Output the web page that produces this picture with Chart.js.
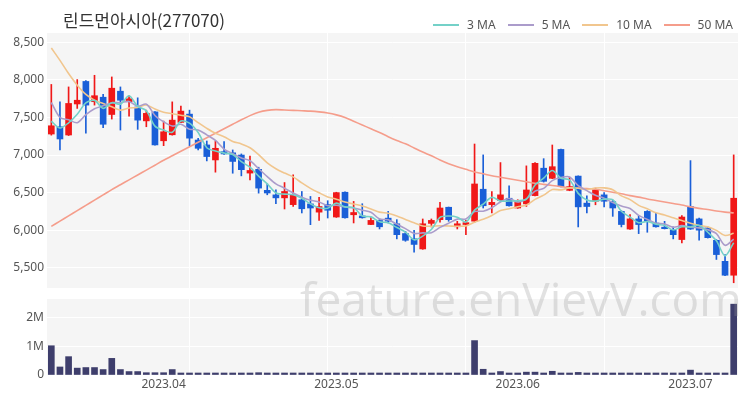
<!DOCTYPE html>
<html><head><meta charset="utf-8">
<script src="https://cdn.jsdelivr.net/npm/chart.js@4/dist/chart.umd.min.js"></script>
<style>
html,body{margin:0;padding:0;background:#fff;width:750px;height:400px;overflow:hidden;}
#wrap{position:relative;width:750px;height:400px;}
#title{position:absolute;left:63px;top:8px;font-family:"Noto Sans CJK KR","Noto Sans",sans-serif;font-size:17px;color:#333;line-height:24px;white-space:nowrap;}
#legend{position:absolute;right:17px;top:17px;display:flex;align-items:center;font-family:"Noto Sans",sans-serif;font-size:12px;color:#555;line-height:16px;}
.li{display:flex;align-items:center;margin-left:12px}
.ln{width:26px;height:2px;margin-right:8px}
#c1{position:absolute;left:0;top:0}
#c2{position:absolute;left:0;top:292px}
#wm{position:absolute;left:300px;top:268px;font-family:"Open Sans","Noto Sans",sans-serif;font-size:46px;color:rgba(150,150,150,0.28);pointer-events:none;white-space:nowrap;line-height:60px;}
</style>
</head><body>
<div id="wrap">
<canvas id="c1" width="750" height="292"></canvas>
<canvas id="c2" width="750" height="108"></canvas>
<div id="title">린드먼아시아(277070)</div>
<div id="legend"></div>
<div id="wm">feature.enVievV.com</div>
</div>
<script>
const dates = ['2023-03-15','2023-03-16','2023-03-17','2023-03-20','2023-03-21','2023-03-22','2023-03-23','2023-03-24','2023-03-27','2023-03-28','2023-03-29','2023-03-30','2023-03-31',
'2023-04-03','2023-04-04','2023-04-05','2023-04-06','2023-04-07','2023-04-10','2023-04-11','2023-04-12','2023-04-13','2023-04-14','2023-04-17','2023-04-18','2023-04-19','2023-04-20','2023-04-21','2023-04-24','2023-04-25','2023-04-26','2023-04-27','2023-04-28',
'2023-05-01','2023-05-02','2023-05-03','2023-05-04','2023-05-08','2023-05-09','2023-05-10','2023-05-11','2023-05-12','2023-05-15','2023-05-16','2023-05-17','2023-05-18','2023-05-19','2023-05-22','2023-05-23','2023-05-24','2023-05-25','2023-05-26','2023-05-30','2023-05-31',
'2023-06-01','2023-06-02','2023-06-05','2023-06-07','2023-06-08','2023-06-09','2023-06-12','2023-06-13','2023-06-14','2023-06-15','2023-06-16','2023-06-19','2023-06-20','2023-06-21','2023-06-22','2023-06-23','2023-06-26','2023-06-27','2023-06-28','2023-06-29',
'2023-07-03','2023-07-04','2023-07-05','2023-07-06','2023-07-07','2023-07-10'];

const openP = [7280,7377,7267,7680,7980,7710,7770,7540,7850,7710,
7640,7455,7575,7190,7270,7435,7545,7200,7135,6935,
7045,7030,7000,6760,6810,6530,6470,6430,6340,6405,
6350,6240,6340,6175,6505,6205,6190,6075,6130,6160,
6085,5955,5885,5750,6090,6140,6305,6045,6075,6120,
6545,6340,6395,6425,6295,6350,6460,6825,6690,7075,
6530,6720,6360,6385,6470,6380,6250,6015,6150,6250,
6095,6040,6005,5875,6315,6150,6030,5865,5585,5400];
const closeP = [7390,7214,7687,7730,7665,7790,7410,7890,7730,7750,
7465,7555,7135,7310,7465,7585,7225,7090,6980,7090,
7015,6915,6805,6795,6560,6495,6430,6515,6470,6285,
6295,6315,6265,6500,6165,6235,6165,6130,6045,6120,
5940,5865,5810,6085,6130,6295,6140,6085,6100,6615,
6325,6370,6470,6325,6380,6535,6890,6650,6845,6580,
6580,6310,6315,6535,6385,6295,6075,6150,6075,6120,
6045,6020,5940,6175,6015,6000,5900,5675,5400,6425];
const highP = [7940,7708,7907,8005,7990,8062,7810,8040,7907,7788,
7762,7598,7580,7452,7708,7651,7598,7223,7187,7187,
7178,7068,7015,6988,6838,6617,6537,6634,6736,6515,
6449,6436,6392,6505,6510,6383,6352,6175,6149,6250,
6140,5985,5998,6149,6149,6370,6308,6118,6130,7147,
7002,6515,6900,6591,6405,6856,6900,6952,7134,7080,
6705,6723,6458,6560,6502,6396,6260,6206,6193,6260,
6229,6118,6043,6193,6926,6162,6043,5874,5676,7002];
const lowP = [7265,7068,7260,7621,7290,7665,7364,7479,7333,7519,
7342,7377,7130,7125,7265,7430,7125,7068,6922,6772,
7010,6758,6723,6670,6493,6471,6352,6282,6316,6229,
6073,6130,6162,6170,6160,6096,6160,6073,6016,6096,
5884,5852,5706,5745,6043,6105,6118,6016,5941,6105,
6295,6229,6383,6320,6290,6316,6455,6640,6685,6575,
6525,6043,6229,6338,6308,6184,6043,6010,5954,5972,
6040,6016,5884,5830,6010,5866,5895,5610,5395,5300];

const ma3 = [7450,7360,7430,7544,7694,7728,7622,7697,7677,7790,
7648,7590,7385,7333,7303,7453,7425,7300,7098,7053,
7028,7007,6912,6838,6720,6617,6495,6480,6472,6423,
6350,6298,6292,6360,6310,6300,6188,6177,6113,6098,
6035,5975,5872,5920,6008,6170,6188,6173,6108,6267,
6347,6437,6388,6388,6392,6413,6602,6692,6795,6692,
6668,6490,6402,6387,6412,6405,6252,6173,6100,6115,
6080,6062,6002,6045,6043,6063,5972,5858,5658,5833];
const ma5 = [7700,7500,7470,7430,7537,7617,7656,7697,7697,7714,
7649,7678,7527,7443,7386,7410,7344,7335,7269,7194,
7080,7018,6961,6924,6818,6714,6617,6559,6494,6439,
6399,6376,6326,6332,6308,6296,6266,6239,6148,6139,
6080,6020,5956,5964,5966,6037,6092,6147,6150,6247,
6253,6299,6376,6421,6374,6416,6520,6556,6660,6700,
6709,6593,6526,6464,6425,6368,6321,6288,6196,6143,
6093,6082,6040,6060,6039,6030,6006,5953,5798,5880];
const ma10 = [8425,8260,8085,7930,7807,7731,7687,7642,7598,7626,
7633,7667,7612,7570,7550,7530,7511,7431,7356,7290,
7245,7181,7148,7097,7006,6897,6818,6760,6709,6629,
6557,6497,6443,6413,6374,6348,6321,6283,6240,6224,
6188,6143,6098,6056,6053,6059,6056,6052,6057,6107,
6145,6196,6262,6286,6311,6335,6410,6466,6541,6537,
6563,6557,6541,6562,6563,6539,6457,6407,6330,6284,
6231,6202,6164,6128,6091,6062,6044,5997,5929,5960];
const ma50 = [6050,6120,6190,6260,6330,6400,6470,6540,6605,6670,
6735,6800,6865,6930,6990,7050,7110,7170,7230,7290,
7350,7410,7470,7525,7570,7595,7605,7600,7595,7590,
7585,7575,7560,7535,7500,7450,7400,7350,7300,7245,
7195,7150,7095,7040,6990,6935,6885,6845,6810,6775,
6750,6725,6705,6685,6665,6645,6625,6610,6595,6580,
6565,6560,6555,6545,6525,6505,6485,6460,6440,6415,
6395,6375,6355,6335,6310,6290,6275,6255,6240,6230];
const volume = [1020000,280000,640000,240000,260000,260000,190000,580000,190000,120000,
120000,80000,80000,80000,190000,70000,70000,60000,60000,50000,
30000,30000,30000,30000,80000,50000,50000,40000,40000,30000,
30000,20000,20000,20000,30000,30000,20000,20000,20000,20000,
50000,20000,20000,30000,20000,50000,20000,20000,30000,1200000,
200000,70000,120000,30000,10000,100000,100000,70000,130000,60000,
60000,90000,30000,20000,20000,20000,30000,20000,20000,20000,
20000,20000,20000,30000,170000,30000,20000,40000,20000,2470000];

const maNames = ['3 MA','5 MA','10 MA','50 MA'];
const maColors = ['#74d1c8','#ab9ccb','#f1c68e','#f59d8b'];
const maSeries = [ma3, ma5, ma10, ma50];
const priceTicks = [5500,6000,6500,7000,7500,8000,8500];
const volTicks = [0,1000000,2000000];

const UP = '#f01818', DOWN = '#1a5fd8', VOLC = '#3e3e6c';
const tickFont = {family:'"Noto Sans", sans-serif', size:12};
const tickColor = '#555';

// legend
const lg = document.getElementById('legend');
maNames.forEach((n,i)=>{
  const d = document.createElement('div'); d.className='li';
  const l = document.createElement('span'); l.className='ln'; l.style.background = maColors[i];
  const t = document.createElement('span'); t.textContent = n;
  d.appendChild(l); d.appendChild(t); lg.appendChild(d);
});

const bgPlugin = {id:'bg', beforeDraw(chart){
  const {ctx, chartArea:a} = chart; ctx.save(); ctx.fillStyle = '#f5f5f5';
  ctx.fillRect(a.left, a.top, a.right-a.left, a.bottom-a.top); ctx.restore();
}};
const vGrid = (c) => (c.index > 0 && c.index % 16 === 0) ? '#ffffff' : 'rgba(0,0,0,0)';
const candleColor = dates.map((d,i)=> closeP[i] >= openP[i] ? UP : DOWN);
const fitY = s => { s.width = 47; s.paddingTop = 0; s.paddingBottom = 0; };
const fitX = h => s => { s.height = h; s.paddingLeft = 0; s.paddingRight = 0; };

new Chart(document.getElementById('c1'), {
  type:'bar',
  data:{ labels: dates, datasets: [
    ...maSeries.map((s,i)=>({type:'line', label:maNames[i], data:s, borderColor:maColors[i], borderWidth:1.6, pointRadius:0, tension:0.3, order:0})),
    {label:'body', data: dates.map((d,i)=>[openP[i], closeP[i]]), backgroundColor:candleColor, barThickness:6, grouped:false, minBarLength:1, order:1},
    {label:'wick', data: dates.map((d,i)=>[lowP[i], highP[i]]), backgroundColor:candleColor, barThickness:1, grouped:false, order:2}
  ]},
  options:{
    responsive:false, animation:false, events:[],
    layout:{padding:{left:0,right:12,top:33,bottom:4}},
    plugins:{legend:{display:false}, tooltip:{enabled:false}},
    scales:{
      x:{ticks:{display:false, autoSkip:false}, grid:{color:vGrid, offset:false, drawTicks:false}, border:{display:false}, afterFit:fitX(0)},
      y:{min:5230, max:8625,
         afterBuildTicks:s=>{s.ticks = priceTicks.map(v=>({value:v}));},
         ticks:{padding:3, font:tickFont, color:tickColor, callback:v=>v.toLocaleString('en-US')},
         grid:{color:'#ffffff', drawTicks:false}, border:{display:false}, afterFit:fitY}
    }
  },
  plugins:[bgPlugin]
});

new Chart(document.getElementById('c2'), {
  type:'bar',
  data:{ labels: dates, datasets:[
    {label:'volume', data: volume, backgroundColor:VOLC, barThickness:6, minBarLength:2}
  ]},
  options:{
    responsive:false, animation:false, events:[],
    layout:{padding:{left:0,right:12,top:7,bottom:0}},
    plugins:{legend:{display:false}, tooltip:{enabled:false}},
    scales:{
      x:{ticks:{autoSkip:false, maxRotation:0, padding:2, font:tickFont, color:tickColor,
           callback:(v,i)=>{ if(i===0) return ''; const m = dates[i].slice(0,7), p = dates[i-1].slice(0,7); return m!==p ? m.replace('-','.') : ''; }},
         grid:{color:vGrid, offset:false, drawTicks:false}, border:{display:false}, afterFit:fitX(25)},
      y:{min:0, max:2650000,
         afterBuildTicks:s=>{s.ticks = volTicks.map(v=>({value:v}));},
         ticks:{padding:3, font:tickFont, color:tickColor, callback:v=> v===0 ? '0' : (v/1000000)+'M'},
         grid:{color:'#ffffff', drawTicks:false}, border:{display:false}, afterFit:fitY}
    }
  },
  plugins:[bgPlugin]
});
</script>
</body></html>
